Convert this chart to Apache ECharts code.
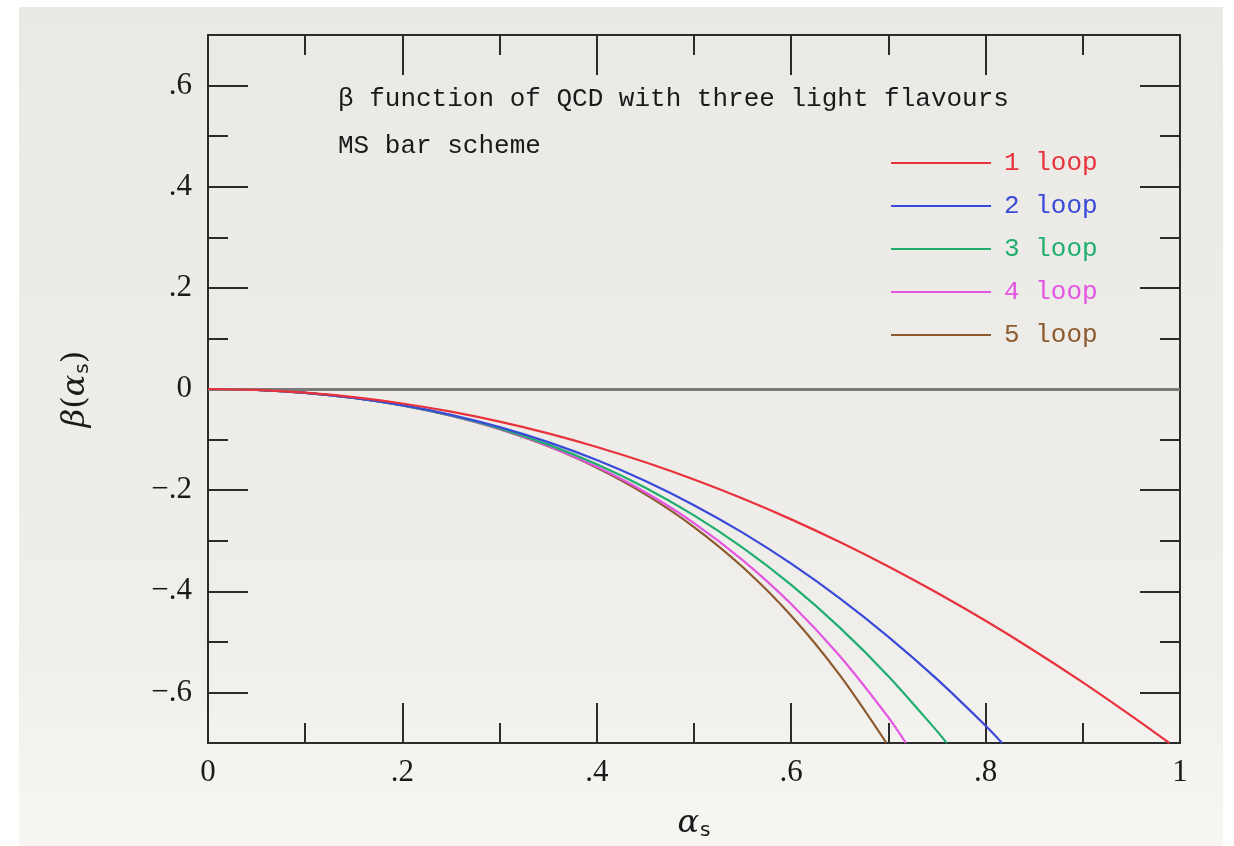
<!DOCTYPE html>
<html>
<head>
<meta charset="utf-8">
<script src="https://cdn.jsdelivr.net/npm/echarts@6/dist/echarts.min.js"></script>
<style>
  html, body { margin: 0; padding: 0; background: #fff; }
  #chart { width: 1234px; height: 846px; }
</style>
</head>
<body>
<div id="chart"></div>
<script>
// beta(alpha_s), [alpha_s, beta]
const loop1 = [[0, 0], [0.05, -0.0018], [0.1, -0.0072], [0.15, -0.0161], [0.2, -0.0286], [0.25, -0.0448], [0.3, -0.0645], [0.35, -0.0877], [0.4, -0.1146], [0.45, -0.145], [0.5, -0.1791], [0.55, -0.2167], [0.6, -0.2578], [0.65, -0.3026], [0.7, -0.3509], [0.75, -0.4029], [0.8, -0.4584], [0.85, -0.5175], [0.9, -0.5801], [0.95, -0.6464], [0.989, -0.70]];
const loop2 = [[0, 0], [0.05, -0.0018], [0.1, -0.0076], [0.15, -0.0175], [0.2, -0.0319], [0.25, -0.0511], [0.3, -0.0754], [0.35, -0.1051], [0.4, -0.1405], [0.45, -0.182], [0.5, -0.2297], [0.55, -0.2841], [0.6, -0.3454], [0.65, -0.4139], [0.7, -0.49], [0.75, -0.5738], [0.8, -0.6659], [0.817, -0.70]];
const loop3 = [[0, 0], [0.05, -0.0018], [0.1, -0.0076], [0.15, -0.0176], [0.2, -0.0324], [0.25, -0.0524], [0.3, -0.078], [0.35, -0.11], [0.4, -0.1488], [0.45, -0.1953], [0.5, -0.25], [0.55, -0.3138], [0.6, -0.3874], [0.65, -0.4718], [0.7, -0.5678], [0.75, -0.6765], [0.76, -0.70]];
const loop4 = [[0, 0], [0.05, -0.0018], [0.1, -0.0076], [0.15, -0.0177], [0.2, -0.0326], [0.25, -0.0528], [0.3, -0.0792], [0.35, -0.1125], [0.4, -0.1538], [0.45, -0.2042], [0.5, -0.2651], [0.55, -0.3382], [0.6, -0.4251], [0.65, -0.5281], [0.7, -0.6493], [0.718, -0.70]];
const loop5 = [[0, 0], [0.05, -0.0018], [0.1, -0.0076], [0.15, -0.0177], [0.2, -0.0326], [0.25, -0.053], [0.3, -0.0796], [0.35, -0.1134], [0.4, -0.1558], [0.45, -0.2084], [0.5, -0.2729], [0.55, -0.352], [0.6, -0.4484], [0.65, -0.5658], [0.698, -0.70]];

const seriesNames = ['1 loop', '2 loop', '3 loop', '4 loop', '5 loop'];
const seriesData = [loop1, loop2, loop3, loop4, loop5];
const colors = ['#e8323c', '#3a4ad8', '#1fae6e', '#e455e2', '#8c5a2e'];

const yMajorTicks = [-0.6, -0.4, -0.2, 0, 0.2, 0.4, 0.6];
const yMinorTicks = [-0.5, -0.3, -0.1, 0.1, 0.3, 0.5];

const chart = echarts.init(document.getElementById('chart'));

const axisColor = '#2b2b2b';
const labelFont = { fontFamily: 'Liberation Serif', fontSize: 31, color: '#1a1a1a' };
const fmt = v => {
  if (Math.abs(v) < 1e-9) return '0';
  if (Math.abs(v - 1) < 1e-9) return '1';
  const s = Math.abs(v).toFixed(1).replace(/^0/, '');
  return (v < 0 ? '\u2212' : '') + s;
};

const xBase = {
  type: 'value', min: 0, max: 1, interval: 0.2,
  axisLine: { onZero: false, lineStyle: { color: axisColor, width: 2 } },
  axisTick: { inside: true, length: 40, lineStyle: { color: axisColor, width: 2 } },
  minorTick: { show: true, splitNumber: 2, length: 20, lineStyle: { color: axisColor, width: 2 } },
  splitLine: { show: false }
};

const yBase = (pos, ticks, len, labels) => ({
  type: 'value', min: -0.7, max: 0.7, position: pos,
  axisLine: { onZero: false, show: true, lineStyle: { color: axisColor, width: 2 } },
  axisTick: { show: true, inside: true, length: len, customValues: ticks, lineStyle: { color: axisColor, width: 2 } },
  axisLabel: labels ? { show: true, customValues: ticks, margin: 16, formatter: fmt, ...labelFont } : { show: false },
  splitLine: { show: false }
});

const richName = {
  a: { fontFamily: 'DejaVu Serif', fontStyle: 'italic', fontSize: 32, color: '#1a1a1a' },
  b: { fontFamily: 'DejaVu Serif', fontStyle: 'italic', fontSize: 32, color: '#1a1a1a' },
  p: { fontFamily: 'DejaVu Serif', fontSize: 32, color: '#1a1a1a' },
  s: { fontFamily: 'DejaVu Sans', fontSize: 20, color: '#1a1a1a', padding: [14, 0, 0, 1] }
};

const option = {
  animation: false,
  backgroundColor: '#ffffff',
  graphic: [
    {
      type: 'rect', z: -100, silent: true,
      shape: { x: 19, y: 7, width: 1204, height: 839 },
      style: {
        fill: new echarts.graphic.LinearGradient(0, 0, 0, 1, [
          { offset: 0, color: '#ebe9e5' },
          { offset: 0.75, color: '#f0eeea' },
          { offset: 1, color: '#f8f6f3' }
        ])
      }
    },
    {
      type: 'text', left: 338, top: 86, z: 10,
      style: { text: '\u03b2 function of QCD with three light flavours', font: '26px "Liberation Mono"', fill: '#1a1a1a' }
    },
    {
      type: 'text', left: 338, top: 133, z: 10,
      style: { text: 'MS bar scheme', font: '26px "Liberation Mono"', fill: '#1a1a1a' }
    }
  ],
  grid: { left: 208, right: 54, top: 35, bottom: 99, containLabel: false },
  legend: {
    orient: 'vertical', left: 886, top: 145,
    icon: 'rect', itemWidth: 100, itemHeight: 2, itemGap: 17,
    textStyle: { fontFamily: 'Liberation Mono', fontSize: 26, padding: [0, 0, 0, 8] },
    data: seriesNames.map((n, i) => ({ name: n, textStyle: { color: colors[i] } }))
  },
  xAxis: [
    {
      ...xBase, position: 'bottom',
      axisLabel: { margin: 14, formatter: fmt, ...labelFont },
      name: '{a|\u03b1}{s|s}', nameLocation: 'middle', nameGap: 64,
      nameTextStyle: { rich: richName }
    },
    { ...xBase, position: 'top', axisLabel: { show: false } }
  ],
  yAxis: [
    {
      ...yBase('left', yMajorTicks, 40, true),
      name: '{b|\u03b2}{p|(}{a|\u03b1}{s|s}{p|)}', nameLocation: 'middle', nameGap: 115,
      nameTextStyle: { rich: richName }
    },
    yBase('left', yMinorTicks, 20, false),
    yBase('right', yMajorTicks, 40, false),
    yBase('right', yMinorTicks, 20, false)
  ],
  series: seriesNames.map((n, i) => ({
    name: n, type: 'line', xAxisIndex: 0, yAxisIndex: 0,
    data: seriesData[i], symbol: 'none', smooth: 0.3,
    lineStyle: { color: colors[i], width: 2.2 }, itemStyle: { color: colors[i] },
    z: 5 - i,
    markLine: i === 0 ? {
      silent: true, symbol: ['none', 'none'], label: { show: false },
      lineStyle: { color: '#7a7a7a', width: 3, type: 'solid' },
      data: [{ yAxis: 0 }]
    } : undefined
  }))
};

chart.setOption(option);
</script>
</body>
</html>
